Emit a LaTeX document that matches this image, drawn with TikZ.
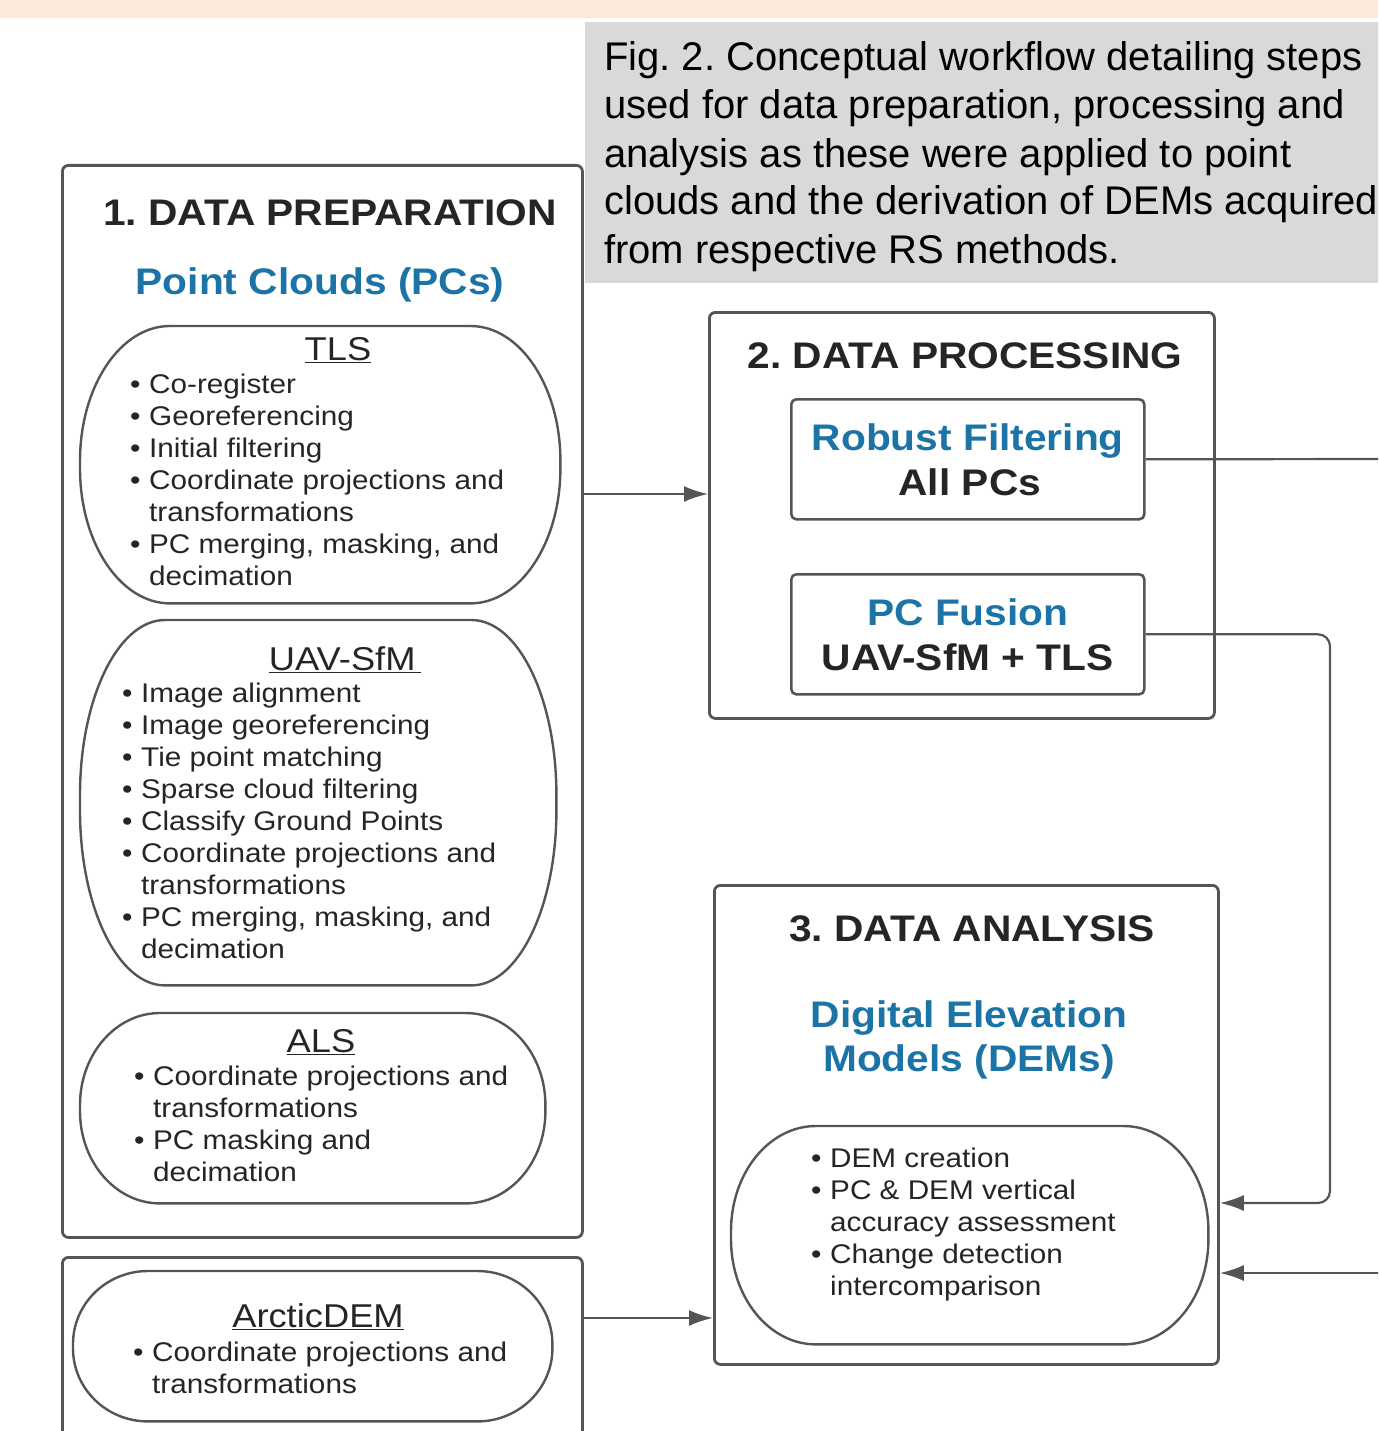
\documentclass[tikz,border=0pt]{standalone}
\usepackage{fontspec}
\setmainfont{Liberation Sans}[FakeStretch=1.1]
\newfontfamily\capfont{Liberation Sans}
\usepackage{xcolor}
\usepackage{tikz}
\usetikzlibrary{shapes,arrows,arrows.meta}
\frenchspacing
\definecolor{edgegray}{HTML}{555555}
\definecolor{inkgray}{HTML}{252525}
\definecolor{titleblue}{HTML}{1B73A6}
\definecolor{peach}{HTML}{FCE9DB}
\definecolor{capgray}{HTML}{D9D9D9}
\tikzstyle{stage} = [draw=edgegray, line width=2.8pt, rounded corners=6pt, rectangle, anchor=north west, inner sep=0pt]
\tikzstyle{task} = [draw=edgegray, line width=2.6pt, rounded corners=5pt, rectangle, anchor=north west,
    align=center, text=inkgray, font=\fontsize{37}{45}\selectfont\bfseries]
\tikzstyle{pill} = [rectangle, anchor=north west, inner sep=0pt]
\tikzstyle{pillline} = [draw=edgegray, line width=2.4pt]
\tikzstyle{head} = [anchor=base, inner sep=0pt, text=inkgray, font=\fontsize{37}{44}\selectfont\bfseries]
\tikzstyle{sub} = [anchor=base, inner sep=0pt, align=center, text=titleblue, font=\fontsize{37}{44}\selectfont\bfseries]
\tikzstyle{pilltitle} = [anchor=base, inner sep=0pt, text=inkgray, font=\fontsize{33}{38}\selectfont]
% base of a multi-line node is its last line
\tikzstyle{items} = [anchor=base west, inner sep=0pt, align=left, text=inkgray, font=\fontsize{27}{32}\selectfont]
\tikzstyle{line} = [draw=edgegray, line width=2.2pt, -{Latex[length=24pt,width=16pt]}]
\newcommand{\itm}{\makebox[19pt][l]{\textbullet}}
\newcommand{\cont}{\hspace*{19pt}}
% outline of a pill node: name, x radius, y radius
\newcommand{\pilloutline}[3]{%
  \draw[pillline] ([xshift=#2]#1.north west) -- ([xshift=-#2]#1.north east)
    arc[start angle=90, end angle=0, x radius=#2, y radius=#3]
    -- ([yshift=#3]#1.south east)
    arc[start angle=0, end angle=-90, x radius=#2, y radius=#3]
    -- ([xshift=#2]#1.south west)
    arc[start angle=-90, end angle=-180, x radius=#2, y radius=#3]
    -- ([yshift=-#3]#1.north west)
    arc[start angle=180, end angle=90, x radius=#2, y radius=#3] -- cycle;}

\begin{document}
\begin{tikzpicture}[x=1pt, y=-1pt]
    \useasboundingbox (0,0) rectangle (1378,1431);
    \clip (0,0) rectangle (1378,1431);
    % caption
    \node [fill=peach, anchor=north west, inner sep=0pt, minimum width=1378pt, minimum height=18pt] (band) at (0,0) {};
    \node [fill=capgray, anchor=north west, inner sep=0pt, minimum width=800pt, minimum height=261pt] (capbox) at (585,22) {};
    \node [anchor=base west, inner sep=0pt, align=left, font=\capfont\fontsize{40}{48}\selectfont] (caption) at (604,263)
        {Fig. 2. Conceptual workflow detailing steps\\used for data preparation, processing and\\analysis as these were applied to point\\clouds and the derivation of DEMs acquired\\from respective RS methods.};
    % 1. data preparation
    \node [stage, minimum width=520pt, minimum height=1072pt] (prep) at (61,164) {};
    \node [head] (prephead) at (330,226) {1. DATA PREPARATION};
    \node [sub] (pcs) at (320,294) {Point Clouds (PCs)};
    \node [pill, minimum width=480pt, minimum height=277pt] (tls) at (80,326) {};
    \pilloutline{tls}{90pt}{135pt}
    \node [pilltitle] (tlstitle) at (338,360) {\underline{TLS}};
    \node [items] (tlsitems) at (130,585) {\itm Co-register\\ \itm Georeferencing\\ \itm Initial filtering\\
        \itm Coordinate projections and\\ \cont transformations\\ \itm PC merging, masking, and\\ \cont decimation};
    \node [pill, minimum width=476pt, minimum height=365pt] (uav) at (80,620) {};
    \pilloutline{uav}{85pt}{175pt}
    \node [pilltitle] (uavtitle) at (345,670) {\underline{UAV-SfM\,}};
    \node [items] (uavitems) at (122,958) {\itm Image alignment\\ \itm Image georeferencing\\ \itm Tie point matching\\
        \itm Sparse cloud filtering\\ \itm Classify Ground Points\\ \itm Coordinate projections and\\ \cont transformations\\
        \itm PC merging, masking, and\\ \cont decimation};
    \node [pill, minimum width=465pt, minimum height=190pt] (als) at (80,1013) {};
    \pilloutline{als}{80pt}{92pt}
    \node [pilltitle] (alstitle) at (321,1052) {\underline{ALS}};
    \node [items] (alsitems) at (134,1181) {\itm Coordinate projections and\\ \cont transformations\\
        \itm PC masking and\\ \cont decimation};
    % arcticdem
    \node [stage, minimum width=520pt, minimum height=220pt] (arctic) at (61,1256) {};
    \node [pill, minimum width=479pt, minimum height=150pt] (adem) at (73,1271) {};
    \pilloutline{adem}{75pt}{73pt}
    \node [pilltitle] (ademtitle) at (318,1327) {\underline{ArcticDEM}};
    \node [items] (ademitems) at (133,1393) {\itm Coordinate projections and\\ \cont transformations};
    % 2. data processing
    \node [stage, minimum width=505pt, minimum height=406pt] (proc) at (708,311) {};
    \node [head] (prochead) at (965,368) {2. DATA PROCESSING};
    \node [task, minimum width=353pt, minimum height=120pt] (robust) at (790,398)
        {\textcolor{titleblue}{Robust Filtering}\\All PCs\hspace*{-4pt}};
    \node [task, minimum width=353pt, minimum height=120pt] (fusion) at (790,573)
        {\textcolor{titleblue}{PC Fusion}\\UAV-SfM + TLS};
    % 3. data analysis
    \node [stage, minimum width=504pt, minimum height=479pt] (anal) at (713,884) {};
    \node [head] (analhead) at (972,941) {3. DATA ANALYSIS};
    \node [sub] (dems) at (969,1071) {Digital Elevation\\Models (DEMs)};
    \node [pill, minimum width=477pt, minimum height=218pt] (dem) at (731,1126) {};
    \pilloutline{dem}{85pt}{105pt}
    \node [items] (demitems) at (811,1295) {\itm DEM creation\\ \itm PC \& DEM vertical\\ \cont accuracy assessment\\
        \itm Change detection\\ \cont intercomparison};
    % connectors
    \coordinate (exitA) at (1395,459);
    \coordinate (entryB) at (1395,1273);
    \path [line] (prep.east |- 0,494) -- (proc.west |- 0,494);
    \path [line] (arctic.east |- 0,1318) -- (anal.west |- 0,1318);
    \path [draw=edgegray, line width=2.2pt] (robust.east) -- (exitA);
    \path [line, rounded corners=12pt] (fusion.east) -| (1330,1203) -- (anal.east |- 0,1203);
    \path [line] (entryB) -- (anal.east |- entryB);
\end{tikzpicture}
\end{document}
